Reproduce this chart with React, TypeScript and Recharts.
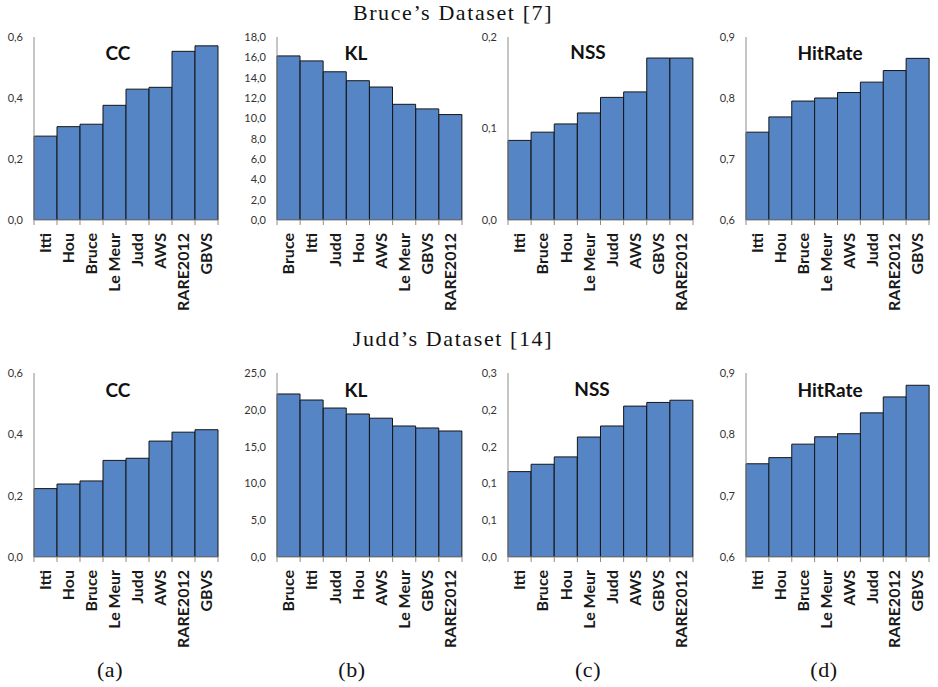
import { BarChart, Bar, XAxis, YAxis } from "recharts";

// Bruce's dataset [7]
const bruceCcNames = ["Itti", "Hou", "Bruce", "Le Meur", "Judd", "AWS", "RARE2012", "GBVS"];
const bruceCcValues = [0.275, 0.306, 0.314, 0.376, 0.429, 0.435, 0.553, 0.571];
const bruceKlNames = ["Bruce", "Itti", "Judd", "Hou", "AWS", "Le Meur", "GBVS", "RARE2012"];
const bruceKlValues = [16.14, 15.65, 14.58, 13.7, 13.08, 11.38, 10.93, 10.37];
const bruceNssNames = ["Itti", "Bruce", "Hou", "Le Meur", "Judd", "AWS", "GBVS", "RARE2012"];
const bruceNssValues = [0.087, 0.096, 0.105, 0.117, 0.134, 0.14, 0.177, 0.177];
const bruceHitNames = ["Itti", "Hou", "Bruce", "Le Meur", "AWS", "Judd", "RARE2012", "GBVS"];
const bruceHitValues = [0.744, 0.769, 0.795, 0.8, 0.809, 0.826, 0.845, 0.865];

// Judd's dataset [14]
const juddCcNames = ["Itti", "Hou", "Bruce", "Le Meur", "Judd", "AWS", "RARE2012", "GBVS"];
const juddCcValues = [0.223, 0.238, 0.248, 0.315, 0.322, 0.378, 0.407, 0.415];
const juddKlNames = ["Bruce", "Itti", "Judd", "Hou", "AWS", "Le Meur", "GBVS", "RARE2012"];
const juddKlValues = [22.15, 21.33, 20.24, 19.43, 18.86, 17.8, 17.53, 17.12];
const juddNssNames = ["Itti", "Bruce", "Hou", "Le Meur", "Judd", "AWS", "GBVS", "RARE2012"];
const juddNssValues = [0.116, 0.126, 0.136, 0.163, 0.178, 0.205, 0.21, 0.213];
const juddHitNames = ["Itti", "Hou", "Bruce", "Le Meur", "AWS", "Judd", "RARE2012", "GBVS"];
const juddHitValues = [0.752, 0.762, 0.784, 0.796, 0.801, 0.835, 0.861, 0.88];

// y ticks
const ccTicks = [0, 0.2, 0.4, 0.6];
const bruceKlTicks = [0, 2, 4, 6, 8, 10, 12, 14, 16, 18];
const juddKlTicks = [0, 5, 10, 15, 20, 25];
const bruceNssTicks = [0, 0.1, 0.2];
const juddNssTicks = [0, 0.05, 0.1, 0.15, 0.2, 0.25];
const hitTicks = [0.6, 0.7, 0.8, 0.9];

const BAR = "#5585c5";
const AXIS = "#8c8c8c";
const SANS = "Lato, 'Open Sans', sans-serif";
const SERIF = "'Liberation Serif', 'DejaVu Serif', serif";

const fmt = (v: number) => (Math.round(v * 10) / 10).toFixed(1).replace(".", ",");

const toRows = (names: string[], values: number[]) =>
  names.map((name, i) => ({ name, value: values[i] }));

const XTick = (props: any) => {
  const { x, y, payload, index, bw } = props;
  return (
    <g transform={`translate(${x},${y})`}>
      <line x1={-bw / 2} x2={-bw / 2} y1={0} y2={5} stroke={AXIS} />
      {index === 7 && <line x1={bw / 2} x2={bw / 2} y1={0} y2={5} stroke={AXIS} />}
      <text
        transform="rotate(-90)"
        x={-13}
        y={0}
        dy="0.36em"
        textAnchor="end"
        fontFamily={SANS}
        fontSize={16}
        fontWeight={700}
        fill="#1a1a1a"
      >
        {payload.value}
      </text>
    </g>
  );
};

type PanelProps = {
  names: string[];
  values: number[];
  ticks: number[];
  px: number; // plot left
  pw: number; // plot width
  top: number; // chart top
  pt: number; // plot top
  pb: number; // plot bottom
  bottom: number; // chart bottom
};

const Panel = ({ names, values, ticks, px, pw, top, pt, pb, bottom }: PanelProps) => {
  const yw = 34;
  const left = px - yw;
  const width = 236;
  const height = bottom - top;
  const xh = bottom - pb;
  return (
    <div style={{ position: "absolute", left, top }}>
      <BarChart
        width={width}
        height={height}
        data={toRows(names, values)}
        margin={{ top: pt - top, right: width - yw - pw, bottom: 0, left: 0 }}
        barCategoryGap={0}
        barGap={0}
      >
        <XAxis
          dataKey="name"
          interval={0}
          height={xh}
          tickSize={0}
          tickMargin={0}
          tickLine={false}
          axisLine={{ stroke: AXIS }}
          tick={<XTick bw={pw / names.length} />}
        />
        <YAxis
          width={yw}
          domain={[ticks[0], ticks[ticks.length - 1]]}
          ticks={ticks}
          allowDataOverflow
          tickFormatter={fmt}
          tickSize={0}
          tickMargin={11}
          tickLine={false}
          axisLine={{ stroke: AXIS }}
          tick={{ fontFamily: SANS, fontSize: 11, fill: "#333" }}
        />
        <Bar dataKey="value" fill={BAR} stroke="#151515" strokeWidth={1} isAnimationActive={false} />
      </BarChart>
    </div>
  );
};

const Title = ({ text, x, y }: { text: string; x: number; y: number }) => (
  <div
    style={{
      position: "absolute",
      left: x - 60,
      top: y - 12,
      width: 120,
      textAlign: "center",
      fontFamily: SANS,
      fontWeight: 700,
      fontSize: 19,
      lineHeight: "24px",
      color: "#111",
    }}
  >
    {text}
  </div>
);

const Caption = ({ text, x, y, spacing = 0.6 }: { text: string; x: number; y: number; spacing?: number }) => (
  <div
    style={{
      position: "absolute",
      left: x - 150,
      top: y - 14,
      width: 300,
      textAlign: "center",
      fontFamily: SERIF,
      fontSize: 22,
      lineHeight: "28px",
      color: "#111",
      letterSpacing: spacing,
    }}
  >
    {text}
  </div>
);

const PX = [34, 277, 508, 746];
const PW = [184, 185, 185, 183];

export default function App() {
  const topRow = { top: 0, pt: 37, pb: 220, bottom: 320 };
  const botRow = { top: 350, pt: 373, pb: 557, bottom: 656 };
  return (
    <div style={{ position: "absolute", left: 0, top: 0, width: 938, height: 687, background: "#fff", overflow: "hidden" }}>
      <Caption text="Bruce’s Dataset [7]" x={453} y={13} spacing={1.6} />
      <Caption text="Judd’s Dataset [14]" x={453} y={339} spacing={1.6} />

      <Panel names={bruceCcNames} values={bruceCcValues} ticks={ccTicks} px={PX[0]} pw={PW[0]} {...topRow} />
      <Panel names={bruceKlNames} values={bruceKlValues} ticks={bruceKlTicks} px={PX[1]} pw={PW[1]} {...topRow} />
      <Panel names={bruceNssNames} values={bruceNssValues} ticks={bruceNssTicks} px={PX[2]} pw={PW[2]} {...topRow} />
      <Panel names={bruceHitNames} values={bruceHitValues} ticks={hitTicks} px={PX[3]} pw={PW[3]} {...topRow} />

      <Panel names={juddCcNames} values={juddCcValues} ticks={ccTicks} px={PX[0]} pw={PW[0]} {...botRow} />
      <Panel names={juddKlNames} values={juddKlValues} ticks={juddKlTicks} px={PX[1]} pw={PW[1]} {...botRow} />
      <Panel names={juddNssNames} values={juddNssValues} ticks={juddNssTicks} px={PX[2]} pw={PW[2]} {...botRow} />
      <Panel names={juddHitNames} values={juddHitValues} ticks={hitTicks} px={PX[3]} pw={PW[3]} {...botRow} />

      <Title text="CC" x={118} y={53} />
      <Title text="KL" x={356} y={53} />
      <Title text="NSS" x={588} y={52} />
      <Title text="HitRate" x={830} y={53} />
      <Title text="CC" x={118} y={390} />
      <Title text="KL" x={356} y={390} />
      <Title text="NSS" x={592} y={389} />
      <Title text="HitRate" x={830} y={390} />

      <Caption text="(a)" x={110} y={670} />
      <Caption text="(b)" x={352} y={670} />
      <Caption text="(c)" x={588} y={670} />
      <Caption text="(d)" x={824} y={670} />
    </div>
  );
}
